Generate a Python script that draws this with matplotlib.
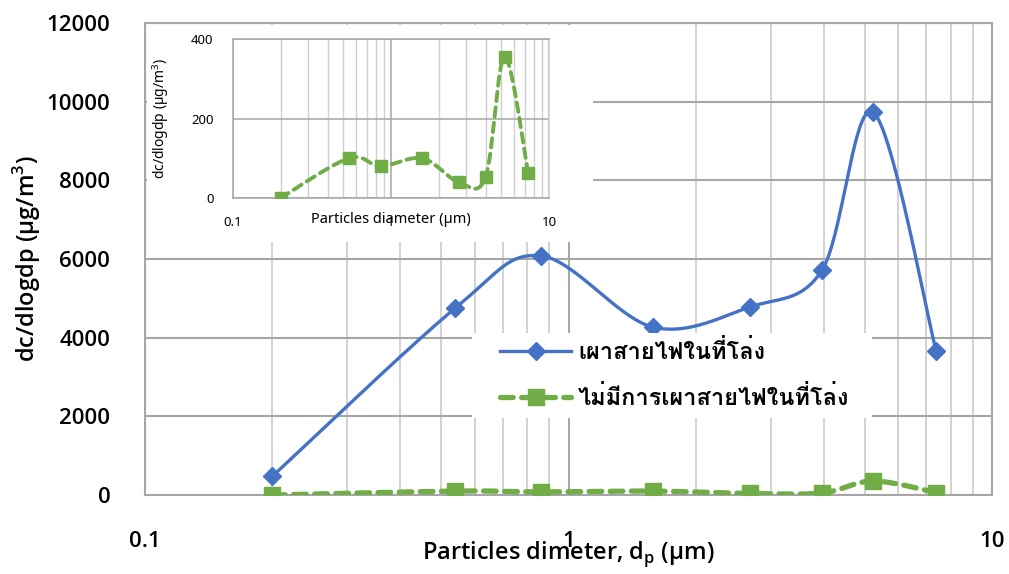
import numpy as np
import matplotlib
matplotlib.use('Agg')
import matplotlib.pyplot as plt
from matplotlib import font_manager
from matplotlib.ft2font import FT2Font
from matplotlib.patches import Rectangle
from matplotlib.ticker import FixedLocator, NullFormatter, LogLocator

# particle size (um) and mass concentration dc/dlogdp (ug/m3)
diameter = [0.2, 0.54, 0.86, 1.58, 2.68, 3.97, 5.24, 7.38]
burning = [480, 4750, 6080, 4270, 4780, 5720, 9730, 3660]
no_burning = [0, 100, 80, 100, 40, 53, 355, 63]

label_burning = 'เผาสายไฟในที่โล่ง'
label_no_burning = 'ไม่มีการเผาสายไฟในที่โล่ง'

BLUE = '#4472C4'
GREEN = '#70AD47'
GRID_MAJOR = '#a6a6a6'
GRID_MINOR = '#cfcfcf'


def thai_family():
    # first installed font that has Thai glyphs
    for f in font_manager.fontManager.ttflist:
        try:
            if 0x0E40 in FT2Font(f.fname).get_charmap():
                return f.name
        except Exception:
            pass
    return 'DejaVu Sans'


def smooth(ax, xs, ys, n=40):
    # Catmull-Rom style smoothing done in screen space, like spreadsheet charts
    pts = ax.transData.transform(np.column_stack([xs, ys]))
    p = np.vstack([pts[0], pts, pts[-1]])
    out = []
    for i in range(1, len(p) - 2):
        p0, p1, p2, p3 = p[i - 1], p[i], p[i + 1], p[i + 2]
        c1 = p1 + (p2 - p0) / 6
        c2 = p2 - (p3 - p1) / 6
        t = np.linspace(0, 1, n)[:, None]
        seg = ((1 - t) ** 3 * p1 + 3 * (1 - t) ** 2 * t * c1
               + 3 * (1 - t) * t ** 2 * c2 + t ** 3 * p2)
        out.append(seg if i == 1 else seg[1:])
    out = ax.transData.inverted().transform(np.vstack(out))
    return out[:, 0], out[:, 1]


def log_grid(ax, lw_major, lw_minor):
    ax.xaxis.set_major_locator(FixedLocator([0.1, 1, 10]))
    ax.xaxis.set_minor_locator(LogLocator(base=10, subs=np.arange(2, 10)))
    ax.xaxis.set_minor_formatter(NullFormatter())
    ax.grid(True, which='minor', axis='x', color=GRID_MINOR, lw=lw_minor)
    ax.grid(True, which='major', axis='x', color=GRID_MAJOR, lw=lw_major)
    ax.grid(True, which='major', axis='y', color=GRID_MAJOR, lw=lw_major)
    ax.set_axisbelow(True)
    ax.tick_params(which='both', length=0)
    for s in ax.spines.values():
        s.set_color(GRID_MAJOR)
        s.set_linewidth(lw_major)


thai = thai_family()
plt.rcParams['font.family'] = ['Open Sans', 'Noto Sans', 'DejaVu Sans']

fig = plt.figure(figsize=(10.09, 5.74), dpi=100)

# main chart
ax = fig.add_axes([0.1437, 0.1376, 0.8395, 0.8224])
ax.set_xscale('log')
ax.set_xlim(0.1, 10)
ax.set_ylim(0, 12000)
ax.set_yticks(range(0, 12001, 2000))
log_grid(ax, 1.5, 1.3)
ax.set_xticklabels(['0.1', '1', '10'])
ax.tick_params(axis='x', pad=26, labelsize=16)
ax.tick_params(axis='y', pad=25, labelsize=16)
ax.set_xlabel('Particles dimeter, d$_\\mathregular{p}$ (µm)', fontsize=17,
              fontweight='semibold')
ax.xaxis.set_label_coords(0.5, -0.093)
ax.set_ylabel('dc/dlogdp (µg/m$^\\mathregular{3}$)', fontsize=17,
              fontweight='semibold')
ax.yaxis.set_label_coords(-0.12, 0.5)
for t in ax.get_xticklabels() + ax.get_yticklabels():
    t.set_fontweight('semibold')

bx, by = smooth(ax, diameter, burning)
ax.plot(bx, by, color=BLUE, lw=2.4, zorder=3)
ax.plot(diameter, burning, 'D', color=BLUE, ms=9, zorder=4)
gx, gy = smooth(ax, diameter, no_burning)
ax.plot(gx, gy, color=GREEN, lw=3.8, dashes=(2.4, 1.6),
        dash_capstyle='round', zorder=3)
ax.plot(diameter, no_burning, 's', color=GREEN, ms=12, zorder=4)

# white block under the legend, then the legend itself without a frame
fig.add_artist(Rectangle((0.468, 0.272), 0.396, 0.148, transform=fig.transFigure,
                         facecolor='white', edgecolor='none', zorder=1))
h1, = ax.plot([], [], color=BLUE, lw=2.4, marker='D', ms=9)
h2, = ax.plot([], [], color=GREEN, lw=3.8, dashes=(2.4, 1.6),
              dash_capstyle='round', marker='s', ms=12)
leg = fig.legend([h1, h2], [label_burning, label_no_burning],
                 loc='upper left', bbox_to_anchor=(0.49, 0.418),
                 frameon=False, handlelength=3.0, labelspacing=0.95,
                 borderpad=0.25, handletextpad=0.3, borderaxespad=0,
                 prop={'family': [thai, 'DejaVu Sans'], 'size': 17,
                       'weight': 'bold'})
leg.set_zorder(5)

# white panel behind the inset chart
fig.add_artist(Rectangle((0.1457, 0.578), 0.442, 0.378, transform=fig.transFigure,
                         facecolor='white', edgecolor='none', zorder=1))

# inset: the low-concentration series on its own scale
ins = fig.add_axes([0.2309, 0.655, 0.3132, 0.277], zorder=2)
ins.set_xscale('log')
ins.set_xlim(0.1, 10)
ins.set_ylim(0, 400)
ins.set_yticks([0, 200, 400])
log_grid(ins, 1.1, 1.0)
ins.spines['right'].set_color(GRID_MINOR)
ins.set_xticklabels(['0.1', '1', '10'])
ins.tick_params(axis='x', pad=13, labelsize=9.5)
ins.tick_params(axis='y', pad=14, labelsize=9.5)
for t in ins.get_xticklabels() + ins.get_yticklabels():
    t.set_family(['Noto Sans', 'DejaVu Sans'])
ins.set_xlabel('Particles diameter (µm)', fontsize=10.5,
               family=['Noto Sans', 'DejaVu Sans'])
ins.xaxis.set_label_coords(0.5, -0.085)
ins.set_ylabel('dc/dlogdp (µg/m$^\\mathregular{3}$)', fontsize=10,
               family=['Noto Sans', 'DejaVu Sans'])
ins.yaxis.set_label_coords(-0.195, 0.5)
ix, iy = smooth(ins, diameter, no_burning)
ins.plot(ix, iy, color=GREEN, lw=2.8, dashes=(2.4, 1.6),
         dash_capstyle='round', zorder=3)
ins.plot(diameter, no_burning, 's', color=GREEN, ms=9, zorder=4)

fig.savefig('out.png', dpi=100)
